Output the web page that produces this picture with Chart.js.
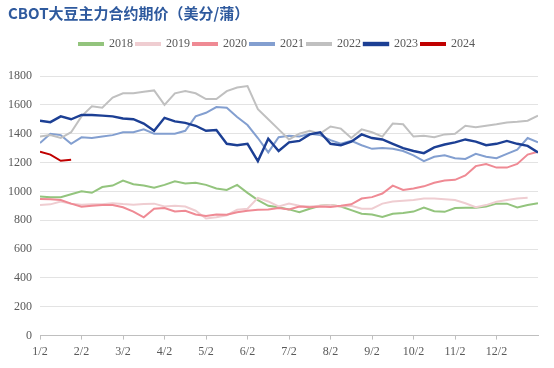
<!DOCTYPE html>
<html lang="zh">
<head>
    <meta charset="UTF-8">
    <title>CBOT大豆主力合约期价</title>
    <script src="https://cdn.jsdelivr.net/npm/chart.js@4.4.1/dist/chart.umd.min.js"></script>
    <style>
        body {
            margin: 0;
            background: #ffffff;
        }
        .wrap {
            position: relative;
            width: 554px;
            height: 368px;
        }
        .title {
            position: absolute;
            left: 8px;
            top: 2px;
            font-family: "Noto Sans CJK SC", sans-serif;
            font-weight: bold;
            font-size: 15px;
            color: #2f5a9e;
        }
    </style>
</head>
<body>
    <div class="wrap">
        <div class="title">CBOT大豆主力合约期价（美分/蒲）</div>
        <canvas id="soyChart" width="554" height="368"></canvas>
    </div>

    <script>
        // x runs in quarter months from 1/2 (0) to year end (48)
        const monthLabels = ['1/2', '2/2', '3/2', '4/2', '5/2', '6/2', '7/2', '8/2', '9/2', '10/2', '11/2', '12/2'];
        const stepsPerMonth = 4;
        const lastStep = 48;
        const yTicks = [0, 200, 400, 600, 800, 1000, 1200, 1400, 1600, 1800];

        const years = ['2018', '2019', '2020', '2021', '2022', '2023', '2024'];
        const colors = ['#93c47d', '#efcdd1', '#ef8a94', '#839fd0', '#c0c0c0', '#1c3f94', '#c00000'];

        const s2018 = [965, 960, 960, 980, 1000, 990, 1030, 1040, 1075, 1050, 1040, 1025,
            1045, 1070, 1055, 1060, 1045, 1020, 1010, 1045, 990, 940, 900, 890,
            875, 855, 880, 900, 905, 895, 870, 845, 840, 822, 845, 850,
            860, 888, 862, 858, 885, 887, 887, 895, 915, 915, 888, 905, 918];
        const s2019 = [905, 910, 930, 915, 907, 910, 910, 918, 912, 908, 912, 915,
            895, 900, 895, 866, 812, 820, 835, 872, 880, 955, 930, 895,
            915, 900, 895, 900, 905, 895, 900, 880, 880, 915, 930, 935,
            940, 950, 950, 945, 940, 918, 890, 905, 928, 940, 950, 955, null];
        const s2020 = [948, 945, 940, 915, 893, 900, 905, 905, 890, 860, 820, 880,
            885, 860, 865, 840, 830, 840, 838, 855, 865, 872, 875, 885,
            875, 895, 890, 895, 892, 900, 910, 950, 960, 985, 1040, 1010,
            1020, 1035, 1060, 1075, 1080, 1110, 1175, 1190, 1165, 1165, 1190, 1255, 1275];
        const s2021 = [1335, 1400, 1390, 1330, 1375, 1370, 1380, 1390, 1410, 1410, 1430, 1400,
            1400, 1400, 1420, 1520, 1545, 1585, 1580, 1515, 1460, 1370, 1270, 1375,
            1385, 1380, 1400, 1390, 1355, 1330, 1350, 1320, 1295, 1300, 1295, 1280,
            1250, 1210, 1240, 1250, 1230, 1225, 1260, 1240, 1230, 1260, 1290, 1370, 1340];
        const s2022 = [1380, 1390, 1370, 1410, 1520, 1590, 1580, 1650, 1680, 1680, 1690, 1700,
            1600, 1680, 1695, 1680, 1640, 1640, 1695, 1720, 1730, 1570, 1500, 1430,
            1360, 1400, 1420, 1400, 1450, 1435, 1370, 1430, 1410, 1380, 1470, 1465,
            1380, 1385, 1375, 1395, 1400, 1455, 1445, 1455, 1465, 1478, 1482, 1490, 1525];
        const s2023 = [1490, 1480, 1520, 1500, 1530, 1530, 1525, 1520, 1505, 1500, 1470, 1420,
            1510, 1485, 1475, 1455, 1420, 1425, 1330, 1320, 1330, 1210, 1365, 1280,
            1340, 1350, 1395, 1410, 1330, 1320, 1345, 1395, 1370, 1360, 1330, 1300,
            1280, 1265, 1305, 1325, 1340, 1360, 1345, 1320, 1330, 1350, 1330, 1315, 1270];
        const s2024 = [1275, 1255, 1212, 1220];

        const series = [s2018, s2019, s2020, s2021, s2022, s2023, s2024];

        const datasets = series.map((values, idx) => ({
            label: years[idx],
            data: values.map((v, i) => ({ x: i, y: v })),
            borderColor: colors[idx],
            backgroundColor: colors[idx],
            borderWidth: idx === 5 ? 2.4 : 2,
            pointRadius: 0,
            tension: 0,
            spanGaps: false,
            // newer years drawn on top
            order: series.length - idx
        }));

        // extra room between legend and plot, and centre legend on the canvas
        const legendTweak = {
            id: 'legendTweak',
            beforeInit(chart) {
                const fit = chart.legend.fit;
                chart.legend.fit = function () {
                    fit.bind(chart.legend)();
                    this.height += 16;
                };
            },
            afterLayout(chart) {
                chart.legend.left += 8;
                chart.legend.right += 8;
            }
        };

        const ctx = document.getElementById('soyChart').getContext('2d');
        new Chart(ctx, {
            type: 'line',
            data: { datasets: datasets },
            plugins: [legendTweak],
            options: {
                responsive: false,
                animation: false,
                layout: {
                    padding: { top: 35, left: 0, right: 16, bottom: 4 }
                },
                plugins: {
                    legend: {
                        position: 'top',
                        labels: {
                            boxWidth: 24,
                            boxHeight: 2,
                            padding: 3,
                            color: '#595959',
                            font: { family: 'Liberation Serif', size: 12 },
                            sort: (a, b) => a.datasetIndex - b.datasetIndex
                        }
                    },
                    tooltip: { enabled: false }
                },
                scales: {
                    x: {
                        type: 'linear',
                        min: 0,
                        max: lastStep,
                        afterBuildTicks: axis => {
                            axis.ticks = monthLabels.map((m, i) => ({ value: i * stepsPerMonth }));
                        },
                        ticks: {
                            autoSkip: false,
                            maxRotation: 0,
                            padding: 5,
                            color: '#595959',
                            font: { family: 'Liberation Serif', size: 12 },
                            callback: v => monthLabels[v / stepsPerMonth]
                        },
                        grid: {
                            drawOnChartArea: false,
                            drawTicks: true,
                            tickLength: 4,
                            color: '#bfbfbf'
                        },
                        border: { display: true, color: '#bfbfbf' }
                    },
                    y: {
                        min: 0,
                        max: 1800,
                        afterBuildTicks: axis => {
                            axis.ticks = yTicks.map(v => ({ value: v }));
                        },
                        ticks: {
                            padding: 8,
                            color: '#595959',
                            font: { family: 'Liberation Serif', size: 12 },
                            callback: v => String(v)
                        },
                        grid: {
                            drawTicks: false,
                            color: '#e3e3e3'
                        },
                        border: { display: false }
                    }
                }
            }
        });
    </script>
</body>
</html>
